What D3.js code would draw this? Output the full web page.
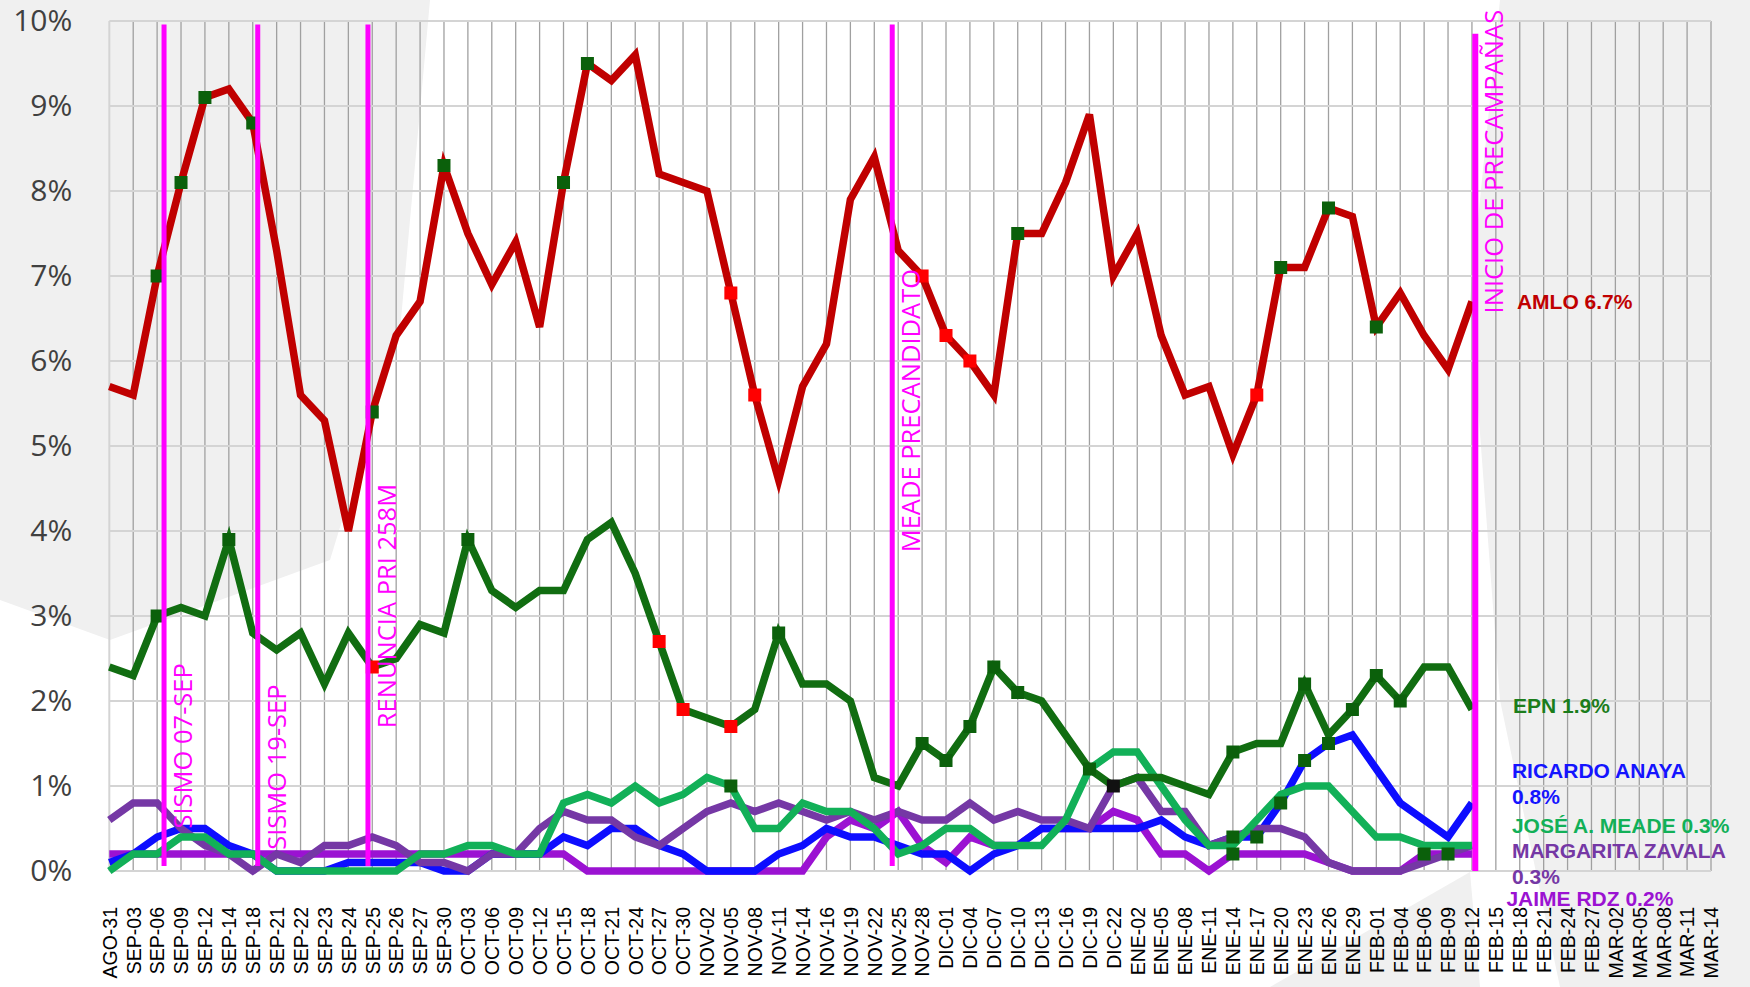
<!DOCTYPE html>
<html>
<head>
<meta charset="utf-8">
<script src="https://cdn.jsdelivr.net/npm/d3@7"></script>
<style>
  html, body { margin: 0; padding: 0; background: #fff; }
  svg { display: block; }
</style>
</head>
<body>
<div id="chart"></div>
<script>
'use strict';

// poll dates (category axis)
const dates = [
  'AGO-31',
  'SEP-03','SEP-06','SEP-09','SEP-12','SEP-14','SEP-18','SEP-21','SEP-22','SEP-23','SEP-24','SEP-25','SEP-26','SEP-27','SEP-30',
  'OCT-03','OCT-06','OCT-09','OCT-12','OCT-15','OCT-18','OCT-21','OCT-24','OCT-27','OCT-30',
  'NOV-02','NOV-05','NOV-08','NOV-11','NOV-14','NOV-16','NOV-19','NOV-22','NOV-25','NOV-28',
  'DIC-01','DIC-04','DIC-07','DIC-10','DIC-13','DIC-16','DIC-19','DIC-22',
  'ENE-02','ENE-05','ENE-08','ENE-11','ENE-14','ENE-17','ENE-20','ENE-23','ENE-26','ENE-29',
  'FEB-01','FEB-04','FEB-06','FEB-09','FEB-12','FEB-15','FEB-18','FEB-21','FEB-24','FEB-27',
  'MAR-02','MAR-05','MAR-08','MAR-11','MAR-14'
];

const yTicks = [0, 1, 2, 3, 4, 5, 6, 7, 8, 9, 10];

// series values, %
const amlo = [5.7,5.6,7.0,8.1,9.1,9.2,8.8,7.3,5.6,5.3,4.0,5.4,6.3,6.7,8.3,7.5,6.9,7.4,6.4,8.1,
  9.5,9.3,9.6,8.2,8.1,8.0,6.8,5.6,4.6,5.7,6.2,7.9,8.4,7.3,7.0,6.3,6.0,5.6,7.5,7.5,
  8.1,8.9,7.0,7.5,6.3,5.6,5.7,4.9,5.6,7.1,7.1,7.8,7.7,6.4,6.8,6.3,5.9,6.7];
const epn = [2.4,2.3,3.0,3.1,3.0,3.9,2.8,2.6,2.8,2.2,2.8,2.4,2.5,2.9,2.8,3.9,3.3,3.1,3.3,3.3,
  3.9,4.1,3.5,2.7,1.9,1.8,1.7,1.9,2.8,2.2,2.2,2.0,1.1,1.0,1.5,1.3,1.7,2.4,2.1,2.0,
  1.6,1.2,1.0,1.1,1.1,1.0,0.9,1.4,1.5,1.5,2.2,1.6,1.9,2.3,2.0,2.4,2.4,1.9];
const anaya = [0.1,0.2,0.4,0.5,0.5,0.3,0.2,0.0,0.0,0.0,0.1,0.1,0.1,0.1,0.0,0.0,0.2,0.2,0.2,0.4,
  0.3,0.5,0.5,0.3,0.2,0.0,0.0,0.0,0.2,0.3,0.5,0.4,0.4,0.3,0.2,0.2,0.0,0.2,0.3,0.5,
  0.5,0.5,0.5,0.5,0.6,0.4,0.3,0.4,0.4,0.8,1.3,1.5,1.6,1.2,0.8,0.6,0.4,0.8];
const meade = [0.0,0.2,0.2,0.4,0.4,0.2,0.2,0.0,0.0,0.0,0.0,0.0,0.0,0.2,0.2,0.3,0.3,0.2,0.2,0.8,
  0.9,0.8,1.0,0.8,0.9,1.1,1.0,0.5,0.5,0.8,0.7,0.7,0.5,0.2,0.3,0.5,0.5,0.3,0.3,0.3,
  0.6,1.2,1.4,1.4,1.0,0.6,0.3,0.3,0.6,0.9,1.0,1.0,0.7,0.4,0.4,0.3,0.3,0.3];
const zavala = [0.6,0.8,0.8,0.5,0.3,0.2,0.0,0.2,0.1,0.3,0.3,0.4,0.3,0.1,0.1,0.0,0.2,0.2,0.5,0.7,
  0.6,0.6,0.4,0.3,0.5,0.7,0.8,0.7,0.8,0.7,0.6,0.7,0.6,0.7,0.6,0.6,0.8,0.6,0.7,0.6,
  0.6,0.5,1.0,1.1,0.7,0.7,0.3,0.4,0.5,0.5,0.4,0.1,0.0,0.0,0.0,0.1,0.2,0.3];
const jaime = [0.2,0.2,0.2,0.2,0.2,0.2,0.2,0.2,0.2,0.2,0.2,0.2,0.2,0.2,0.2,0.2,0.2,0.2,0.2,0.2,
  0.0,0.0,0.0,0.0,0.0,0.0,0.0,0.0,0.0,0.0,0.4,0.6,0.5,0.7,0.3,0.1,0.4,0.3,0.3,0.5,
  0.5,0.5,0.7,0.6,0.2,0.2,0.0,0.2,0.2,0.2,0.2,0.1,0.0,0.0,0.0,0.2,0.2,0.2];

// points that carry a square marker (indexes into the series)
const amloUp = [2,3,4,6,11,14,19,20,38,49,51,53];
const amloDown = [26,27,34,35,36,48];
const epnUp = [2,5,15,28,34,35,36,37,38,41,47,50,52,53,54];
const epnDown = [11,23,24,26];
const epnFlat = [42];
const meadeUp = [26];
const anayaUp = [48,49,50,51];
const zavalaUp = [47];
const jaimeUp = [47,55,56];

// end labels
const names = ['AMLO', 'EPN', 'RICARDO ANAYA', 'JOSÉ A. MEADE', 'MARGARITA ZAVALA', 'JAIME RDZ'];

// vertical event markers: label, position in category units, where the label starts (%)
const events = ['SISMO 07-SEP', 'SISMO 19-SEP', 'RENUNCIA PRI 258M', 'MEADE PRECANDIDATO', 'INICIO DE PRECAMPAÑAS'];
const eventAt = [2.29, 6.21, 10.82, 32.75, 57.14];
const eventTextFrom = [0.5, 0.25, 1.68, 3.75, 6.56];

// -------------------------------------------------------------------------

const W = 1750, H = 987;
const margin = {top: 21, right: 39, bottom: 116, left: 109.3};

const x = d3.scaleLinear()
  .domain([0, dates.length - 1])
  .range([margin.left, W - margin.right]);
const y = d3.scaleLinear()
  .domain([0, 10])
  .range([H - margin.bottom, margin.top]);

const svg = d3.select('#chart').append('svg')
  .attr('width', W)
  .attr('height', H)
  .style('background', '#fff');

// faint watermark behind the chart (rough shapes, page pixels)
const watermark = [
  [[0,0],[430,0],[400,330],[330,560],[110,640],[0,600]],
  [[1500,0],[1750,0],[1750,987],[1560,987],[1500,700],[1470,300]],
  [[1270,987],[1470,872],[1480,987]]
];
svg.append('g').selectAll('path')
    .data(watermark)
  .enter().append('path')
    .attr('d', d => 'M' + d.join('L') + 'Z')
    .attr('fill', '#f0f0f0');

// grid
const grid = svg.append('g');
grid.selectAll('.vgrid')
    .data(d3.range(1, dates.length))
  .enter().append('line')
    .attr('x1', d => x(d)).attr('x2', d => x(d))
    .attr('y1', y(10)).attr('y2', y(0))
    .attr('stroke', '#a0a0a0')
    .attr('stroke-width', 1.3);
grid.selectAll('.hgrid')
    .data(yTicks)
  .enter().append('line')
    .attr('x1', x(0)).attr('x2', x(dates.length - 1))
    .attr('y1', d => y(d)).attr('y2', d => y(d))
    .attr('stroke', '#d4d4d4')
    .attr('stroke-width', 2);
grid.append('line')
  .attr('x1', x(0)).attr('x2', x(0))
  .attr('y1', y(10)).attr('y2', y(0))
  .attr('stroke', '#d4d4d4')
  .attr('stroke-width', 2);

// axes
svg.append('g')
    .attr('transform', 'translate(' + margin.left + ',0)')
    .call(d3.axisLeft(y).tickValues(yTicks).tickSize(0).tickPadding(37).tickFormat(d => d + '%'))
    .call(g => g.select('.domain').remove())
  .selectAll('text')
    .attr('font-family', '"Open Sans", sans-serif')
    .attr('font-size', 30)
    .attr('fill', '#404040');

svg.append('g')
    .attr('transform', 'translate(0,' + y(0) + ')')
    .call(d3.axisBottom(x).tickValues(d3.range(dates.length)).tickSize(0).tickFormat(i => dates[i]))
    .call(g => g.select('.domain').remove())
  .selectAll('text')
    .attr('transform', 'rotate(-90)')
    .attr('text-anchor', 'end')
    .attr('x', -36)
    .attr('y', 0)
    .attr('dy', '0.35em')
    .attr('font-family', '"Liberation Sans", Arial, sans-serif')
    .attr('font-size', 19.5)
    .attr('fill', '#000');

// series
const series = [
  {name: names[5], values: jaime,  color: '#9b12d2', text: '#9b12d2', marks: [[jaimeUp, '#0b600b']]},
  {name: names[2], values: anaya,  color: '#0d0dff', text: '#1414ff', marks: [[anayaUp, '#0b600b']]},
  {name: names[4], values: zavala, color: '#7538a5', text: '#7538a5', marks: [[zavalaUp, '#0b600b']]},
  {name: names[3], values: meade,  color: '#12b058', text: '#12b058', marks: [[meadeUp, '#0b600b']]},
  {name: names[1], values: epn,    color: '#116d11', text: '#1b7d1b', marks: [[epnUp, '#0b600b'], [epnDown, '#ff0000'], [epnFlat, '#111']]},
  {name: names[0], values: amlo,   color: '#c00000', text: '#c00000', marks: [[amloUp, '#0b600b'], [amloDown, '#ff0000']]}
];

const line = d3.line()
  .x((d, i) => x(i))
  .y(d => y(d));

svg.append('g').selectAll('path')
    .data(series)
  .enter().append('path')
    .attr('d', d => line(d.values))
    .attr('fill', 'none')
    .attr('stroke', d => d.color)
    .attr('stroke-width', 7.5)
    .attr('stroke-linejoin', 'miter');

const marks = svg.append('g');
series.forEach(s => {
  s.marks.forEach(m => {
    marks.selectAll(null)
        .data(m[0])
      .enter().append('rect')
        .attr('x', i => x(i) - 6.5)
        .attr('y', i => y(s.values[i]) - 6.5)
        .attr('width', 13)
        .attr('height', 13)
        .attr('fill', m[1]);
  });
});

// event lines
const ev = svg.append('g');
ev.selectAll('line')
    .data(events)
  .enter().append('line')
    .attr('x1', (d, i) => x(eventAt[i])).attr('x2', (d, i) => x(eventAt[i]))
    .attr('y1', (d, i) => i === 4 ? y(9.85) : y(9.96))
    .attr('y2', (d, i) => i === 4 ? y(0) : y(0.06))
    .attr('stroke', '#ff00ff')
    .attr('stroke-width', (d, i) => i === 4 ? 6 : 5);
ev.selectAll('text')
    .data(events)
  .enter().append('text')
    .attr('transform', (d, i) => 'translate(' + (x(eventAt[i]) + 28) + ',' + y(eventTextFrom[i]) + ') rotate(-90)')
    .attr('font-family', '"Open Sans", sans-serif')
    .attr('font-size', 25.5)
    .attr('fill', '#ff00ff')
    .text(d => d);

// end labels
const last = amlo.length - 1;
const labelLayout = {
  'AMLO':             {dx: 45, dy: [7.5]},
  'EPN':              {dx: 41, dy: [3.5]},
  'RICARDO ANAYA':    {dx: 40, dy: [-25, 0.5]},
  'JOSÉ A. MEADE':    {dx: 40, dy: [-13]},
  'MARGARITA ZAVALA': {dx: 40, dy: [12.5, 38]},
  'JAIME RDZ':        {dx: 34.5, dy: [51.5]}
};

const labels = svg.append('g')
  .attr('font-family', '"Liberation Sans", Arial, sans-serif')
  .attr('font-weight', 'bold')
  .attr('font-size', 21);
series.forEach(s => {
  const v = s.values[last];
  const pct = d3.format('.1f')(v) + '%';
  const lay = labelLayout[s.name];
  const rows = lay.dy.length > 1 ? [s.name, pct] : [s.name + ' ' + pct];
  rows.forEach((r, k) => {
    labels.append('text')
      .attr('x', x(last) + lay.dx)
      .attr('y', y(v) + lay.dy[k])
      .attr('fill', s.text)
      .text(r);
  });
});
</script>
</body>
</html>
